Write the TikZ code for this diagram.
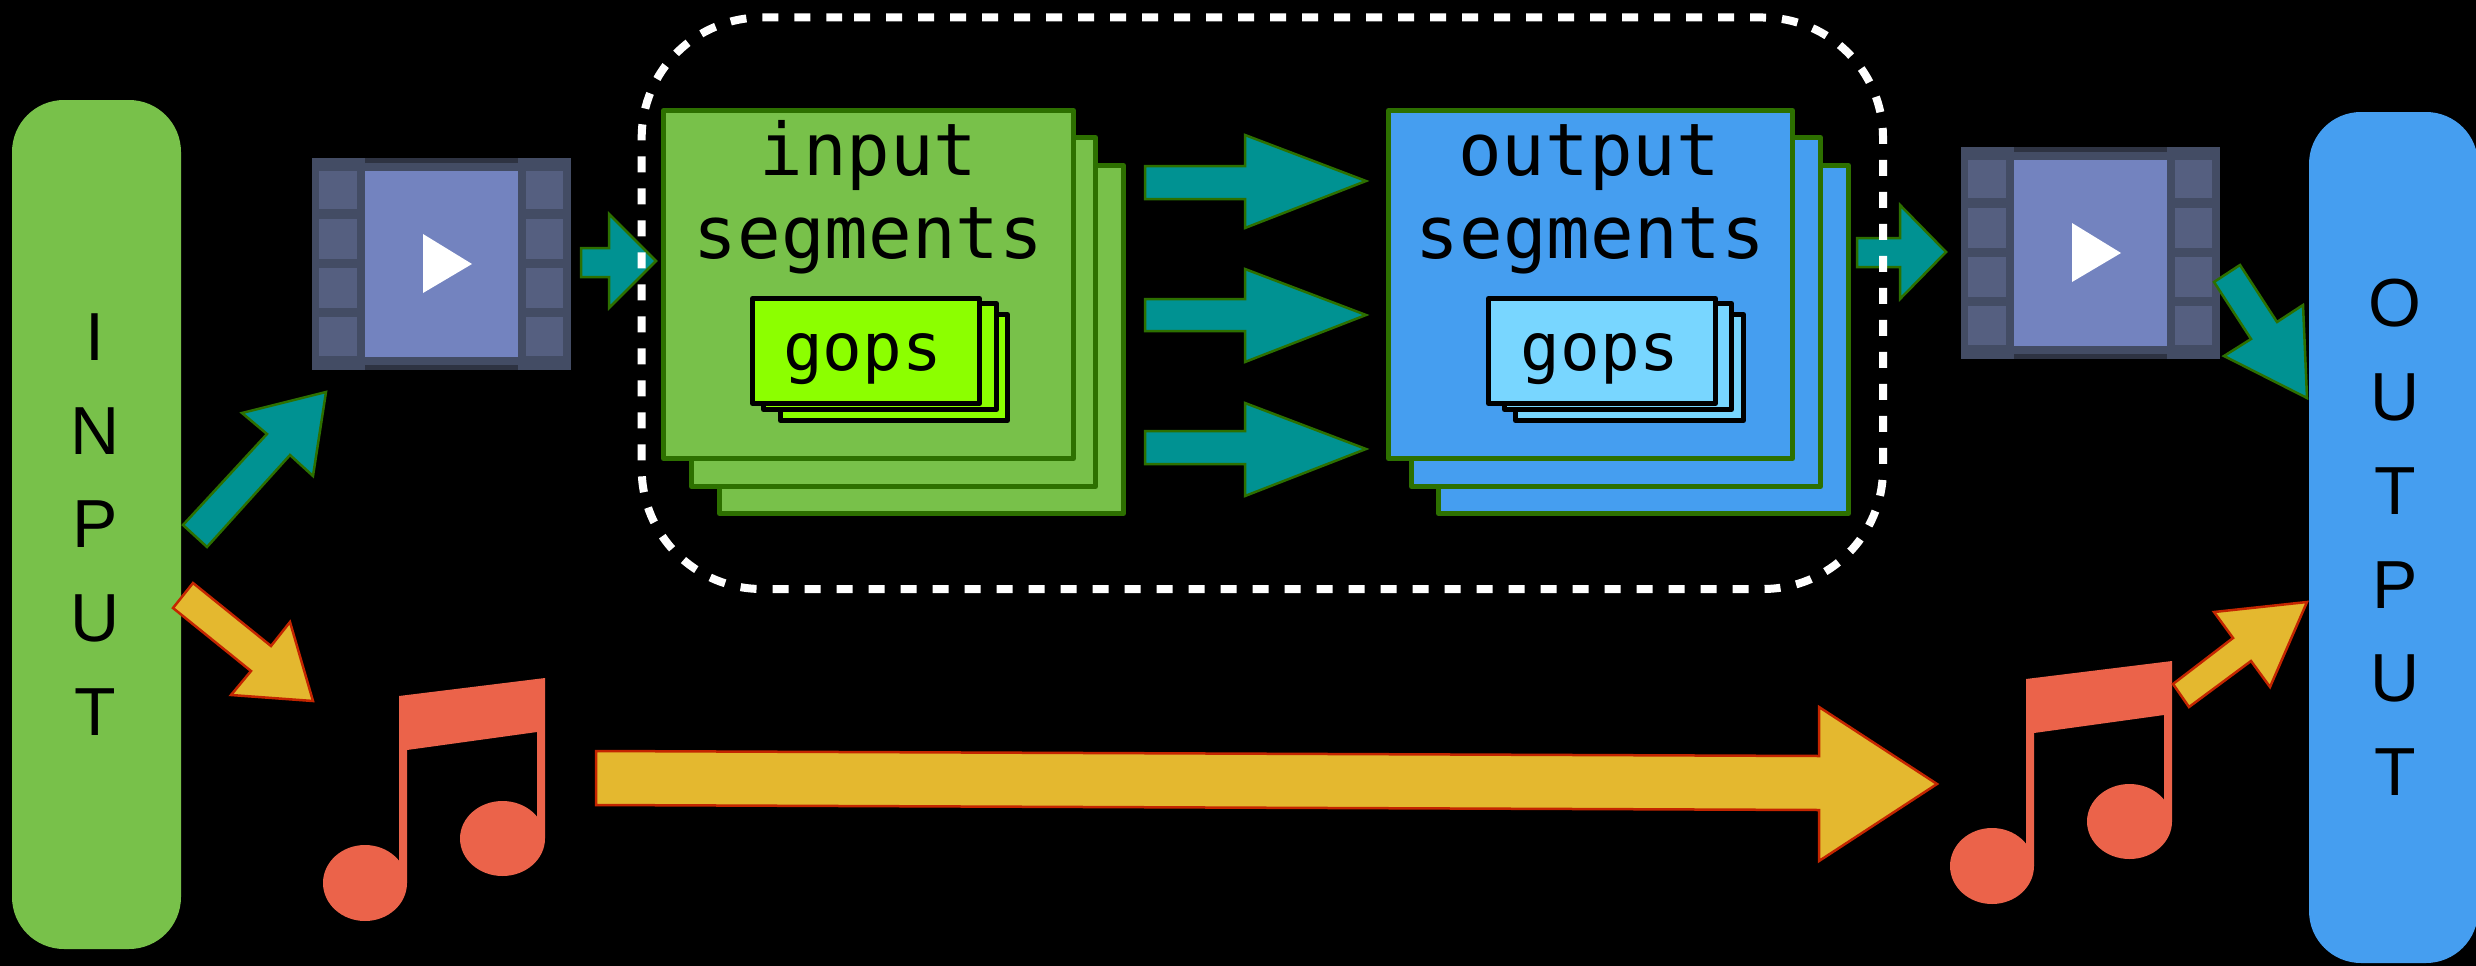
\documentclass[tikz,border=0pt]{standalone}
\usepackage{fontspec}
\newfontfamily\labelmono{DejaVu Sans Mono}
\newfontfamily\labelsans{Liberation Sans}
\definecolor{ingreen}{HTML}{78C14A}
\definecolor{edgegreen}{HTML}{2D7000}
\definecolor{outblue}{HTML}{459EF0}
\definecolor{limegop}{HTML}{8CFF00}
\definecolor{skygop}{HTML}{78D6FF}
\definecolor{tealarrow}{HTML}{009292}
\definecolor{goldarrow}{HTML}{E4B82F}
\definecolor{redline}{HTML}{C42500}
\definecolor{notered}{HTML}{EB634A}
\definecolor{filmframe}{HTML}{434C64}
\definecolor{filmcell}{HTML}{555F80}
\definecolor{filmdark}{HTML}{2E3342}
\definecolor{filmblue}{HTML}{7383BF}
\tikzset{
  sbox/.style={rectangle,draw,inner sep=0pt,outer sep=0pt,line join=round},
  segin/.style={sbox,fill=ingreen,draw=edgegreen,line width=5pt},
  segout/.style={sbox,fill=outblue,draw=edgegreen,line width=5pt},
  gopin/.style={sbox,fill=limegop,draw=black,line width=5pt},
  gopout/.style={sbox,fill=skygop,draw=black,line width=5pt},
  pill/.style={rectangle,inner sep=0pt,outer sep=0pt,rounded corners=52pt},
  tealblock/.style={fill=tealarrow,draw=edgegreen,line width=2.5pt,line join=miter},
  goldblock/.style={fill=goldarrow,draw=redline,line width=2.5pt,line join=miter},
  monotext/.style={inner sep=0pt,anchor=base,text=black,font=\labelmono\fontsize{72.5}{72.5}\selectfont},
  goptext/.style={inner sep=0pt,anchor=base,text=black,font=\labelmono\fontsize{66}{66}\selectfont},
  vertext/.style={inner sep=0pt,align=center,text=black,font=\labelsans\fontsize{68}{93.8}\selectfont},
  film/.pic={
    \fill[filmframe] (312,158) rectangle (571,370);
    \fill[filmdark] (365,158) rectangle (518,163);
    \fill[filmdark] (365,365) rectangle (518,370);
    \foreach \ya/\yb in {171/209,219/259,268/308,317/356}{
      \fill[filmcell] (319,\ya) rectangle (357,\yb);
      \fill[filmcell] (526,\ya) rectangle (563,\yb);
    }
    \fill[filmblue] (365,171) rectangle (518,357);
    \fill[white] (423,234) -- (472,264) -- (423,293) -- cycle;
  },
  musicnote/.pic={
    \fill[notered] (399,696) -- (545,678) -- (545,838) -- (537,838) -- (537,732)
      -- (407,750) -- (407,883) -- (399,883) -- cycle;
    \fill[notered] (502.5,838.5) ellipse [x radius=42.5,y radius=37.5];
    \fill[notered] (365,883) ellipse [x radius=42,y radius=38];
  }
}
\newcommand{\rectnode}[6]{%
  \node[#2,minimum width={(#5-#3)*1pt},minimum height={(#6-#4)*1pt}] (#1) at ({(#3+#5)/2},{(#4+#6)/2}) {};}
\begin{document}
\begin{tikzpicture}[x=1pt,y=-1pt]
\useasboundingbox (0,0) rectangle (2476,966);
\fill[black] (0,0) rectangle (2476,966);

% side pills
\rectnode{inputpill}{pill,fill=ingreen}{12}{100}{181}{949}
\rectnode{outputpill}{pill,fill=outblue}{2309}{112}{2478}{963}
\node[vertext] (inputlabel) at (95,524.5) {I\\N\\P\\U\\T};
\node[vertext] (outputlabel) at (2395,537.5) {O\\U\\T\\P\\U\\T};

% film icons
\pic at (0,0) {film};
\pic at (1649,-11) {film};

% music notes
\pic at (0,0) {musicnote};
\pic at (1627,-17) {musicnote};

% input segments
\rectnode{inseg3}{segin}{719.5}{165.5}{1123.5}{513.5}
\rectnode{inseg2}{segin}{691.5}{137.5}{1095.5}{486.5}
\rectnode{inseg1}{segin}{663.5}{110.5}{1073.5}{458.5}
\rectnode{ingop3}{gopin}{780.5}{314.5}{1007.5}{420.5}
\rectnode{ingop2}{gopin}{763.5}{303.5}{996.5}{409.5}
\rectnode{ingop1}{gopin}{752.5}{298.5}{979.5}{403.5}
\node[monotext] (intxt1) at (868.5,175) {input};
\node[monotext] (intxt2) at (868.5,258) {segments};
\node[goptext] (ingoptxt) at (862.5,370) {gops};

% output segments
\rectnode{outseg3}{segout}{1438.5}{165.5}{1848.5}{513.5}
\rectnode{outseg2}{segout}{1411.5}{137.5}{1820.5}{486.5}
\rectnode{outseg1}{segout}{1388.5}{110.5}{1792.5}{458.5}
\rectnode{outgop3}{gopout}{1515.5}{314.5}{1743.5}{420.5}
\rectnode{outgop2}{gopout}{1504.5}{303.5}{1731.5}{409.5}
\rectnode{outgop1}{gopout}{1488.5}{298.5}{1715.5}{403.5}
\node[monotext] (outtxt1) at (1589,175) {output};
\node[monotext] (outtxt2) at (1590.5,258) {segments};
\node[goptext] (outgoptxt) at (1600,370) {gops};

% teal block arrows
\draw[tealblock] (183,525) -- (267,434) -- (242,413) -- (326,392) -- (313,476) -- (290,455) -- (207,547) -- cycle;
\draw[tealblock] (581,248) -- (609,248) -- (609,214) -- (656,261) -- (609,308) -- (609,277) -- (581,277) -- cycle;
\draw[tealblock] (1145,166) -- (1245,166) -- (1245,135) -- (1366,181) -- (1245,228) -- (1245,199) -- (1145,199) -- cycle;
\draw[tealblock] (1145,299) -- (1245,299) -- (1245,269) -- (1366,315) -- (1245,362) -- (1245,331) -- (1145,331) -- cycle;
\draw[tealblock] (1145,431) -- (1245,431) -- (1245,403) -- (1366,449) -- (1245,496) -- (1245,464) -- (1145,464) -- cycle;
\draw[tealblock] (1857,238) -- (1900,238) -- (1900,205) -- (1946,252) -- (1900,299) -- (1900,267) -- (1857,267) -- cycle;
\draw[tealblock] (2240,265) -- (2277,322) -- (2303,305) -- (2307,398) -- (2224,356) -- (2251,339) -- (2214,282) -- cycle;

% gold block arrows
\draw[goldblock] (193,583) -- (271,646) -- (290,622) -- (313,701) -- (231,695) -- (251,671) -- (173,608) -- cycle;
\draw[goldblock] (596,751) -- (1819,756) -- (1819,707) -- (1937,784) -- (1819,861) -- (1819,810) -- (596,805) -- cycle;
\draw[goldblock] (2173,684) -- (2233,638) -- (2214,612) -- (2307,602) -- (2270,687) -- (2251,661) -- (2189,707) -- cycle;

% dashed group outline
\draw[white,line width=8pt,dash pattern=on 16pt off 16pt,rounded corners=120pt]
  (854,17.5) -- (1883,17.5) -- (1883,589) -- (641.7,589) -- (641.7,17.5) -- (842,17.5);
\end{tikzpicture}
\end{document}
